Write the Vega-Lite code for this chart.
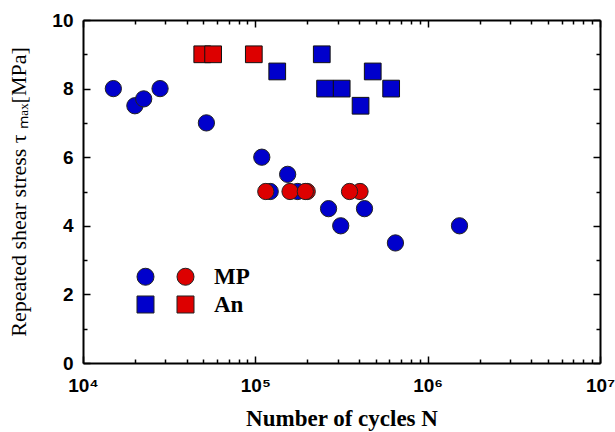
{
  "$schema": "https://vega.github.io/schema/vega-lite/v6.json",
  "width": 517,
  "height": 343,
  "autosize": "none",
  "padding": {"left": 83, "top": 20, "right": 15, "bottom": 69},
  "background": "white",
  "config": {
    "view": {"stroke": null},
    "axis": {"grid": false, "domainColor": "black", "tickColor": "black", "labelColor": "black", "titleColor": "black"}
  },
  "data": {
    "values": [
      {"series": "MP-1", "N": 15000, "tau": 8},
      {"series": "MP-1", "N": 20000, "tau": 7.5},
      {"series": "MP-1", "N": 22500, "tau": 7.7},
      {"series": "MP-1", "N": 28000, "tau": 8},
      {"series": "MP-1", "N": 52000, "tau": 7},
      {"series": "MP-1", "N": 109000, "tau": 6},
      {"series": "MP-1", "N": 122000, "tau": 5},
      {"series": "MP-1", "N": 154000, "tau": 5.5},
      {"series": "MP-1", "N": 176000, "tau": 5},
      {"series": "MP-1", "N": 266000, "tau": 4.5},
      {"series": "MP-1", "N": 313000, "tau": 4},
      {"series": "MP-1", "N": 430000, "tau": 4.5},
      {"series": "MP-1", "N": 650000, "tau": 3.5},
      {"series": "MP-1", "N": 1530000, "tau": 4},
      {"series": "An-1", "N": 134000, "tau": 8.5},
      {"series": "An-1", "N": 243000, "tau": 9},
      {"series": "An-1", "N": 254000, "tau": 8},
      {"series": "An-1", "N": 317000, "tau": 8},
      {"series": "An-1", "N": 408000, "tau": 7.5},
      {"series": "An-1", "N": 480000, "tau": 8.5},
      {"series": "An-1", "N": 614000, "tau": 8},
      {"series": "MP-2", "N": 115000, "tau": 5},
      {"series": "MP-2", "N": 159000, "tau": 5},
      {"series": "MP-2", "N": 200000, "tau": 5},
      {"series": "MP-2", "N": 195000, "tau": 5},
      {"series": "MP-2", "N": 405000, "tau": 5},
      {"series": "MP-2", "N": 352000, "tau": 5},
      {"series": "An-2", "N": 49200, "tau": 9},
      {"series": "An-2", "N": 56900, "tau": 9},
      {"series": "An-2", "N": 98000, "tau": 9}
    ]
  },
  "encoding": {
    "color": {
      "field": "series", "type": "nominal",
      "scale": {"domain": ["MP-1", "An-1", "MP-2", "An-2"], "range": ["#0000cc", "#0000cc", "#dd0000", "#dd0000"]},
      "legend": {
        "orient": "none", "legendX": 51, "legendY": 245, "title": null, "columns": 2,
        "labelExpr": "datum.label == 'MP-2' ? 'MP' : (datum.label == 'An-2' ? 'An' : '')",
        "labelFont": "Liberation Serif", "labelFontSize": 23, "labelFontWeight": "bold", "labelColor": "black",
        "symbolSize": 290, "symbolStrokeColor": "#222", "symbolStrokeWidth": 1, "symbolOpacity": 1,
        "columnPadding": -3, "rowPadding": 4, "labelOffset": 17, "padding": 0
      }
    },
    "shape": {
      "field": "series", "type": "nominal",
      "scale": {"domain": ["MP-1", "An-1", "MP-2", "An-2"], "range": ["circle", "square", "circle", "square"]}
    }
  },
  "layer": [
    {
      "transform": [{"filter": "datum.series == 'MP-1'"}],
      "mark": {"type": "point", "filled": true, "opacity": 1, "size": 265, "stroke": "#222", "strokeWidth": 1},
      "encoding": {
        "x": {"field": "N", "type": "quantitative", "scale": {"type": "log", "domain": [10000, 10000000], "nice": false},
          "axis": {"orient": "bottom", "values": [10000, 100000, 1000000, 10000000], "tickSize": -7, "tickWidth": 1.5,
            "domain": true, "domainWidth": 2,
            "labelExpr": "'10' + (round(log(datum.value)/LN10) == 4 ? '⁴' : round(log(datum.value)/LN10) == 5 ? '⁵' : round(log(datum.value)/LN10) == 6 ? '⁶' : '⁷')",
            "labelFont": "Liberation Sans", "labelFontWeight": "bold", "labelFontSize": 19, "labelPadding": 20,
            "labelFlush": false, "labelOverlap": false,
            "title": "Number of cycles N", "titleFont": "Liberation Serif", "titleFontSize": 23, "titleFontWeight": "bold", "titlePadding": 12}},
        "y": {"field": "tau", "type": "quantitative", "scale": {"domain": [0, 10], "nice": false},
          "axis": {"orient": "left", "values": [0, 2, 4, 6, 8, 10], "tickSize": -7, "tickWidth": 1.5,
            "domain": true, "domainWidth": 2,
            "labelFont": "Liberation Sans", "labelFontWeight": "bold", "labelFontSize": 19, "labelPadding": 17,
            "labelFlush": false, "labelOverlap": false,
            "title": "Repeated shear stress  τ ₘₐₓ[MPa]", "titleFont": "Liberation Serif", "titleFontSize": 22, "titleFontWeight": "normal", "titlePadding": 21}}
      }
    },
    {
      "transform": [{"filter": "datum.series == 'An-1'"}],
      "mark": {"type": "point", "filled": true, "opacity": 1, "size": 280, "stroke": "#111", "strokeWidth": 1},
      "encoding": {
        "x": {"field": "N", "type": "quantitative", "scale": {"type": "log", "domain": [10000, 10000000], "nice": false},
          "axis": {"orient": "bottom", "values": [20000, 30000, 40000, 50000, 60000, 70000, 80000, 90000, 200000, 300000, 400000, 500000, 600000, 700000, 800000, 900000, 2000000, 3000000, 4000000, 5000000, 6000000, 7000000, 8000000, 9000000],
            "tickSize": -4, "tickWidth": 1.5, "domain": false, "labels": false, "title": null}},
        "y": {"field": "tau", "type": "quantitative", "scale": {"domain": [0, 10], "nice": false},
          "axis": {"orient": "left", "values": [1, 3, 5, 7, 9], "tickSize": -4, "tickWidth": 1.5, "domain": false, "labels": false, "title": null}}
      }
    },
    {
      "transform": [{"filter": "datum.series == 'MP-2'"}],
      "mark": {"type": "point", "filled": true, "opacity": 1, "size": 265, "stroke": "#222", "strokeWidth": 1},
      "encoding": {
        "x": {"field": "N", "type": "quantitative", "scale": {"type": "log", "domain": [10000, 10000000], "nice": false},
          "axis": {"orient": "top", "values": [10000, 100000, 1000000, 10000000], "tickSize": -7, "tickWidth": 1.5,
            "domain": true, "domainWidth": 2, "labels": false, "title": null}},
        "y": {"field": "tau", "type": "quantitative", "scale": {"domain": [0, 10], "nice": false},
          "axis": {"orient": "right", "values": [0, 2, 4, 6, 8, 10], "tickSize": -7, "tickWidth": 1.5,
            "domain": true, "domainWidth": 2, "labels": false, "title": null}}
      }
    },
    {
      "transform": [{"filter": "datum.series == 'An-2'"}],
      "mark": {"type": "point", "filled": true, "opacity": 1, "size": 280, "stroke": "#111", "strokeWidth": 1},
      "encoding": {
        "x": {"field": "N", "type": "quantitative", "scale": {"type": "log", "domain": [10000, 10000000], "nice": false},
          "axis": {"orient": "top", "values": [20000, 30000, 40000, 50000, 60000, 70000, 80000, 90000, 200000, 300000, 400000, 500000, 600000, 700000, 800000, 900000, 2000000, 3000000, 4000000, 5000000, 6000000, 7000000, 8000000, 9000000],
            "tickSize": -4, "tickWidth": 1.5, "domain": false, "labels": false, "title": null}},
        "y": {"field": "tau", "type": "quantitative", "scale": {"domain": [0, 10], "nice": false},
          "axis": {"orient": "right", "values": [1, 3, 5, 7, 9], "tickSize": -4, "tickWidth": 1.5, "domain": false, "labels": false, "title": null}}
      }
    }
  ],
  "resolve": {"axis": {"x": "independent", "y": "independent"}}
}
